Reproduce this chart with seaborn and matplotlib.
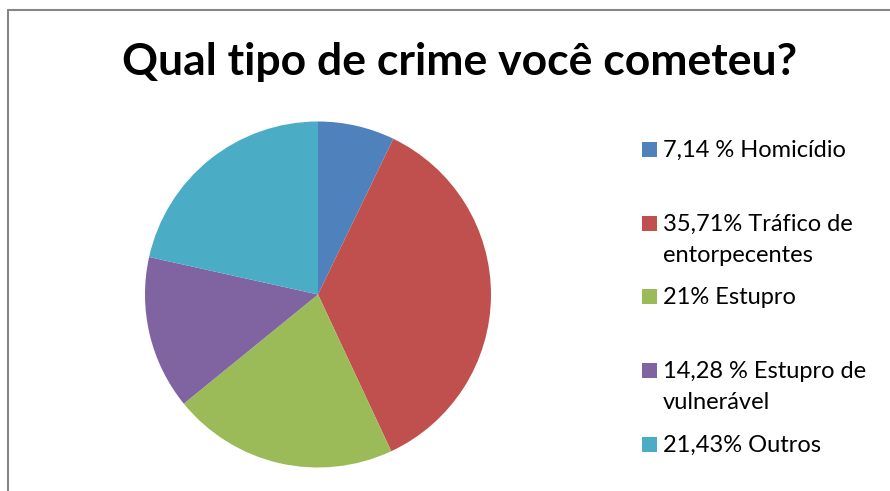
import matplotlib
matplotlib.use("Agg")
import matplotlib.pyplot as plt
import seaborn as sns
from matplotlib.patches import Rectangle
from matplotlib.lines import Line2D

sns.set_theme(style="white")
plt.rcParams['font.family'] = ['Lato', 'DejaVu Sans']

title = "Qual tipo de crime você cometeu?"
categories = ["Homicídio", "Tráfico de entorpecentes", "Estupro",
              "Estupro de vulnerável", "Outros"]
values = [7.14, 35.71, 21, 14.28, 21.43]
legend_labels = [["7,14 % Homicídio"], ["35,71% Tráfico de", "entorpecentes"],
                 ["21% Estupro"], ["14,28 % Estupro de", "vulnerável"], ["21,43% Outros"]]
colors = ["#4F81BD", "#C0504D", "#9BBB59", "#8064A2", "#4BACC6"]

W, H = 890, 491
fig = plt.figure(figsize=(W / 100, H / 100), dpi=100)

# chart border (top and left visible)
fig.add_artist(Line2D([8 / W, 8 / W], [0, 1 - 10 / H], color="#868686", lw=1.5))
fig.add_artist(Line2D([8 / W, 1], [1 - 10 / H, 1 - 10 / H], color="#868686", lw=1.5))

cx, cy, r = 318, 294.5, 173
ax = fig.add_axes([(cx - r) / W, (H - cy - r) / H, 2 * r / W, 2 * r / H])
ax.pie(values, colors=colors, startangle=90, counterclock=False, radius=1,
       wedgeprops=dict(linewidth=0))
ax.set_xlim(-1, 1)
ax.set_ylim(-1, 1)
ax.set_aspect("auto")
ax.axis("off")

fig.text(460 / W, 1 - 75 / H, title, ha="center", va="baseline",
         fontsize=32, fontweight="bold", color="black")

# legend
baselines = [157, 231, 304, 378, 452]
for lines, col, yb in zip(legend_labels, colors, baselines):
    fig.add_artist(Rectangle((642 / W, 1 - yb / H), 15 / W, 15 / H,
                             facecolor=col, edgecolor="none",
                             transform=fig.transFigure))
    for i, line in enumerate(lines):
        fig.text(663 / W, 1 - (yb + 31 * i) / H, line, ha="left", va="baseline",
                 fontsize=17, color="black")

fig.savefig("out.png", dpi=100)
